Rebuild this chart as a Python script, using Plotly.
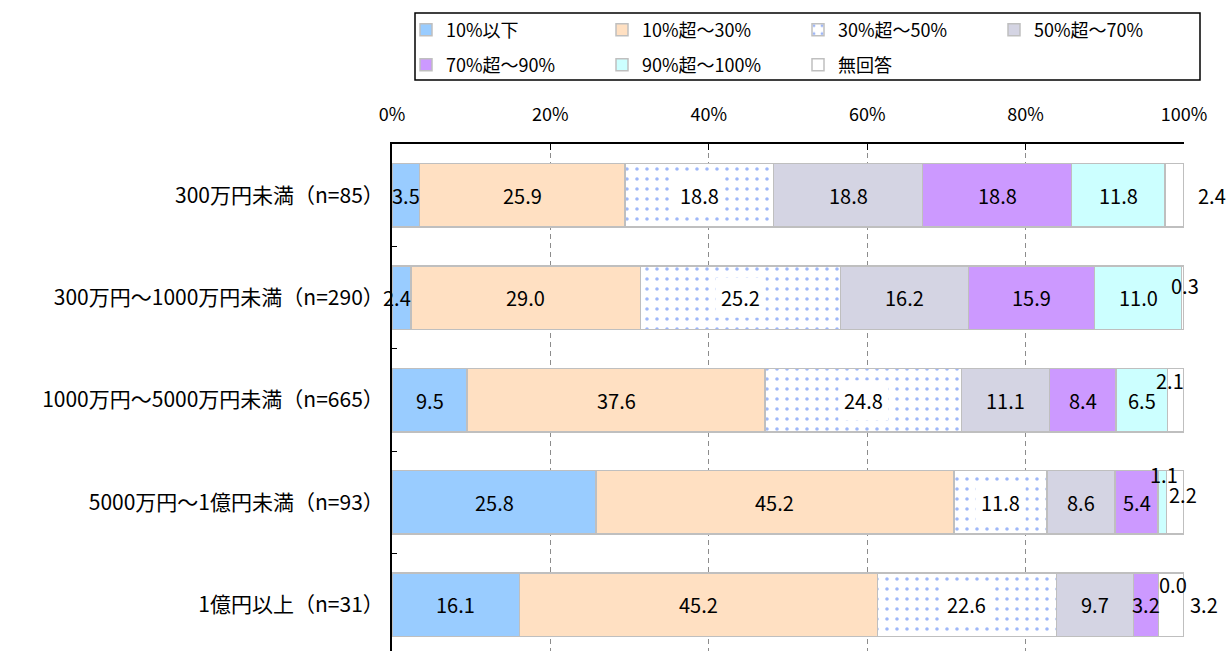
import plotly.graph_objects as go

categories = ["300万円未満（n=85）", "300万円～1000万円未満（n=290）", "1000万円～5000万円未満（n=665）",
              "5000万円～1億円未満（n=93）", "1億円以上（n=31）"]
series_names = ["10%以下", "10%超～30%", "30%超～50%", "50%超～70%", "70%超～90%", "90%超～100%", "無回答"]
tick_vals = [0, 20, 40, 60, 80, 100]
tick_text = ["0%", "20%", "40%", "60%", "80%", "100%"]

s_le10 = [3.5, 2.4, 9.5, 25.8, 16.1]
s_10_30 = [25.9, 29.0, 37.6, 45.2, 45.2]
s_30_50 = [18.8, 25.2, 24.8, 11.8, 22.6]
s_50_70 = [18.8, 16.2, 11.1, 8.6, 9.7]
s_70_90 = [18.8, 15.9, 8.4, 5.4, 3.2]
s_90_100 = [11.8, 11.0, 6.5, 1.1, 0.0]
s_na = [2.4, 0.3, 2.1, 2.2, 3.2]

series_vals = [s_le10, s_10_30, s_30_50, s_50_70, s_70_90, s_90_100, s_na]

colors = ["#99CCFF", "#FFE0C2", "#FFFFFF", "#D4D4E3", "#CC99FF", "#CCFFFF", "#FFFFFF"]
FONT = "Noto Sans CJK JP"

# row totals for 100% stacking
totals = [sum(s[j] for s in series_vals) for j in range(len(categories))]
norm = [[s[j] / totals[j] * 100 for j in range(len(categories))] for s in series_vals]

fig = go.Figure()
for i, name in enumerate(series_names):
    marker = dict(color=colors[i], line=dict(color="#BFBFBF", width=1.5))
    if i == 2:
        marker["pattern"] = dict(shape=".", fgcolor="#3F6FF0", bgcolor="#FFFFFF", size=10, solidity=0.1)
    fig.add_trace(go.Bar(
        x=norm[i], y=categories, orientation="h", name=name, marker=marker,
        legend="legend" if i < 4 else "legend2", hoverinfo="x+name",
    ))

# label offsets (style only): (series, row) -> (xshift, yshift)
offsets = {
    (0, 1): (-5, 0),
    (6, 0): (37, 0),
    (6, 1): (2, 12),
    (6, 2): (-6, 20),
    (5, 3): (2, 28),
    (6, 3): (8, 8),
    (5, 4): (14, 20),
    (6, 4): (33, 0),
}

annotations = []
for j, cat in enumerate(categories):
    cum = 0.0
    for i in range(len(series_names)):
        v = norm[i][j]
        xs, ys = offsets.get((i, j), (0, 0))
        ann = dict(x=cum + v / 2, y=cat, xref="x", yref="y", text=f"{series_vals[i][j]:.1f}",
                   showarrow=False, xshift=xs, yshift=ys,
                   font=dict(family=FONT, size=20, color="#000000"))
        if i == 2:
            ann.update(bgcolor="#FFFFFF", borderpad=5)
        annotations.append(ann)
        cum += v

H = 651
T = 144
PH = H - T
PL = 392
PW = 792

def py(ypx):
    return (H - ypx) / PH

def px(xpx):
    return (xpx - PL) / PW

legend_common = dict(orientation="h", x=px(406), xanchor="left", yanchor="middle", traceorder="normal",
                     entrywidth=151, entrywidthmode="pixels", bgcolor="rgba(0,0,0,0)", borderwidth=0,
                     font=dict(family=FONT, size=18), itemclick=False, itemdoubleclick=False)

fig.update_layout(
    width=1228, height=651,
    margin=dict(l=PL, r=1228 - PL - PW, t=T, b=0),
    barmode="stack", bargap=0.38,
    plot_bgcolor="#FFFFFF", paper_bgcolor="#FFFFFF",
    font=dict(family=FONT, color="#000000"),
    annotations=annotations,
    legend=dict(y=py(30), **legend_common),
    legend2=dict(y=py(65), **legend_common),
    shapes=[dict(type="rect", xref="paper", yref="paper", x0=px(415), x1=px(1200), y0=py(80), y1=py(13),
                 line=dict(color="#000000", width=1.5), fillcolor="rgba(0,0,0,0)", layer="above")],
    showlegend=True,
)

fig.update_xaxes(
    side="top", range=[0, 100], tickmode="array", tickvals=tick_vals, ticktext=tick_text,
    showgrid=True, gridcolor="#8C8C8C", griddash="5px,4px", gridwidth=1,
    showline=True, linecolor="#000000", linewidth=2, zeroline=False,
    ticks="inside", ticklen=6, tickcolor="#000000", ticklabelstandoff=14,
    tickfont=dict(family=FONT, size=18, color="#000000"), fixedrange=True,
)
fig.update_yaxes(
    type="category", categoryorder="array", categoryarray=categories, range=[4.45, -0.5],
    showgrid=False, showline=True, linecolor="#000000", linewidth=2, zeroline=False,
    ticks="inside", ticklen=5, tickcolor="#000000", tickson="boundaries", ticklabelstandoff=2,
    tickfont=dict(family=FONT, size=21, color="#000000"), fixedrange=True,
)

fig.write_html("out.html")
